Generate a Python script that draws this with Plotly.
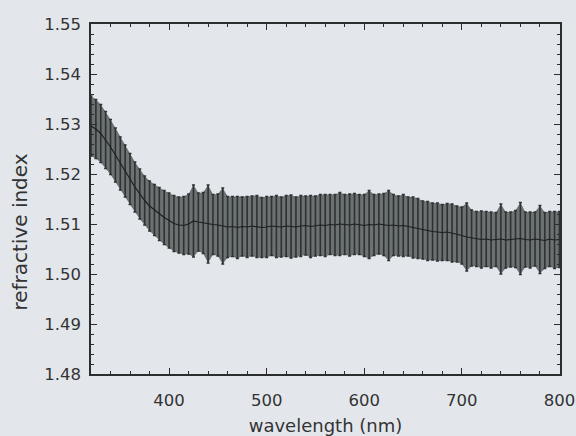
import plotly.graph_objects as go

wavelength = list(range(320, 801, 5))

refr_index = [
    1.5296, 1.5290, 1.5281, 1.5268, 1.5254, 1.5238, 1.5221, 1.5206, 1.5190, 1.5174,
    1.5160, 1.5147, 1.5136, 1.5128, 1.5120, 1.5113, 1.5107, 1.5101, 1.5098, 1.5097,
    1.5100, 1.5106, 1.5104, 1.5102, 1.5100, 1.5099, 1.5098, 1.5096, 1.5094, 1.5095,
    1.5093, 1.5095, 1.5094, 1.5096, 1.5095, 1.5093, 1.5094, 1.5096, 1.5095, 1.5094,
    1.5096, 1.5095, 1.5094, 1.5096, 1.5097, 1.5095, 1.5096, 1.5098, 1.5097, 1.5099,
    1.5098, 1.5100, 1.5099, 1.5098, 1.5100, 1.5099, 1.5097, 1.5099, 1.5098, 1.5100,
    1.5099, 1.5097, 1.5098, 1.5096, 1.5097, 1.5095, 1.5093, 1.5091, 1.5088, 1.5086,
    1.5085, 1.5084, 1.5083, 1.5084, 1.5082, 1.5080, 1.5077, 1.5074, 1.5072, 1.5070,
    1.5069, 1.5070, 1.5068, 1.5069, 1.5070, 1.5068, 1.5069, 1.5070, 1.5071, 1.5069,
    1.5068, 1.5070, 1.5069, 1.5067, 1.5070, 1.5068, 1.5069,
]

refr_error = [
    0.0060, 0.0059, 0.0058, 0.0057, 0.0055, 0.0054, 0.0053, 0.0052, 0.0051, 0.0050,
    0.0050, 0.0049, 0.0050, 0.0051, 0.0053, 0.0054, 0.0055, 0.0056, 0.0056, 0.0058,
    0.0060, 0.0072, 0.0058, 0.0061, 0.0078, 0.0060, 0.0062, 0.0076, 0.0061, 0.0060,
    0.0062, 0.0059, 0.0061, 0.0060, 0.0062, 0.0060, 0.0061, 0.0059, 0.0062, 0.0060,
    0.0061, 0.0063, 0.0060, 0.0061, 0.0059, 0.0062, 0.0060, 0.0061, 0.0062, 0.0060,
    0.0061, 0.0063, 0.0060, 0.0062, 0.0061, 0.0060, 0.0062, 0.0068, 0.0061, 0.0060,
    0.0062, 0.0070, 0.0061, 0.0060, 0.0062, 0.0059, 0.0061, 0.0060, 0.0058, 0.0059,
    0.0057, 0.0058, 0.0056, 0.0057, 0.0058, 0.0056, 0.0057, 0.0068, 0.0056, 0.0055,
    0.0057, 0.0055, 0.0056, 0.0054, 0.0070, 0.0056, 0.0055, 0.0057, 0.0072, 0.0055,
    0.0056, 0.0054, 0.0068, 0.0056, 0.0055, 0.0057, 0.0056,
]

x_ticks = [400, 500, 600, 700, 800]
y_ticks = [1.48, 1.49, 1.50, 1.51, 1.52, 1.53, 1.54, 1.55]
y_labels = ["1.48", "1.49", "1.50", "1.51", "1.52", "1.53", "1.54", "1.55"]

x_title = "wavelength (nm)"
y_title = "refractive index"

bg = "#e3e7ec"
ink = "#2b2d2e"
text_col = "#333333"
font_family = "DejaVu Sans, Liberation Sans, Arial, sans-serif"

upper = [m + e for m, e in zip(refr_index, refr_error)]
lower = [m - e for m, e in zip(refr_index, refr_error)]

fig = go.Figure()

# gray fill between error limits (the dense bars look filled)
fig.add_trace(go.Scatter(x=wavelength, y=lower, mode="lines",
                         line=dict(width=0, color="rgba(0,0,0,0)"),
                         hoverinfo="skip", showlegend=False))
fig.add_trace(go.Scatter(x=wavelength, y=upper, mode="lines",
                         line=dict(width=0, color="rgba(0,0,0,0)"),
                         fill="tonexty", fillcolor="#6c7172",
                         hoverinfo="skip", showlegend=False))

# error bars + mean line
fig.add_trace(go.Scatter(
    x=wavelength, y=refr_index, mode="lines",
    line=dict(color="#1e1f1f", width=1.2),
    error_y=dict(type="data", array=refr_error, visible=True,
                 color="#2e3233", thickness=1.6, width=1.5),
    showlegend=False,
))

axis_common = dict(
    showline=True, linecolor=ink, linewidth=1.5, mirror="allticks",
    ticks="inside", ticklen=6, tickwidth=1.3, tickcolor=ink,
    showgrid=False, zeroline=False, layer="above traces",
    tickfont=dict(family=font_family, size=16.5, color=text_col),
    ticklabeloverflow="allow", automargin=False,
)

fig.update_xaxes(
    range=[320, 800.6], tickvals=x_ticks,
    minor=dict(dtick=20, tick0=0, ticks="inside", ticklen=3, tickcolor=ink, showgrid=False),
    title=dict(text=x_title, font=dict(family=font_family, size=18, color=text_col), standoff=22),
    ticklabelstandoff=10,
    **axis_common,
)
fig.update_yaxes(
    range=[1.48, 1.55], tickvals=y_ticks, ticktext=y_labels,
    minor=dict(dtick=0.002, tick0=1.48, ticks="inside", ticklen=3, tickcolor=ink, showgrid=False),
    ticklabelstandoff=5,
    **axis_common,
)

fig.add_annotation(
    text=y_title, xref="paper", yref="paper", x=-0.152, y=0.406,
    xanchor="center", yanchor="middle", textangle=-90, showarrow=False,
    font=dict(family=font_family, size=20, color=text_col),
)

fig.update_layout(
    width=576, height=436,
    margin=dict(l=91, r=16, t=24, b=62),
    paper_bgcolor=bg, plot_bgcolor=bg,
    showlegend=False,
)

fig.write_html(
    "out.html",
    config={"displayModeBar": False},
    post_script="document.body.style.margin='0';document.body.style.background='" + bg + "';",
)
